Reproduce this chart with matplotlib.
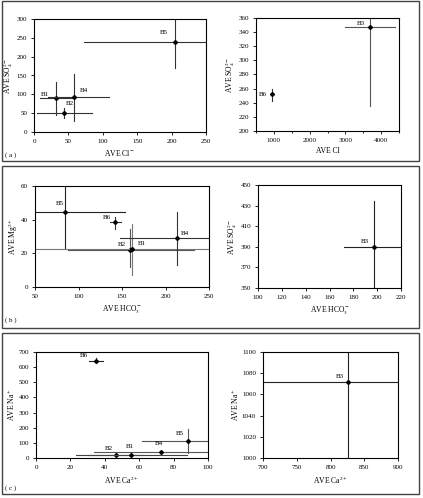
import matplotlib
matplotlib.use("Agg")
import matplotlib.pyplot as plt
from matplotlib.patches import Rectangle
from matplotlib.ticker import MultipleLocator

plt.rcParams['font.family'] = ['Liberation Serif', 'DejaVu Serif']
plt.rcParams['mathtext.fontset'] = 'stix'
plt.rcParams['font.size'] = 5

# (a) SO4 vs Cl
a1_names = ['B1', 'B2', 'B4', 'B5']
a1_x = [32, 44, 58, 205]
a1_y = [89, 51, 93, 239]
a1_xlo = [8, 5, 20, 73]
a1_xhi = [60, 85, 109, 260]
a1_ylo = [46, 36, 29, 171]
a1_yhi = [133, 64, 154, 320]

a2_names = ['B6', 'B3']
a2_x = [936, 3693]
a2_y = [252, 347]
a2_xlo = [880, 3003]
a2_xhi = [990, 4390]
a2_ylo = [243, 235]
a2_yhi = [260, 370]

# (b) Mg / SO4 vs HCO3
b1_names = ['B5', 'B6', 'B2', 'B1', 'B4']
b1_x = [85, 142, 159.5, 162, 213]
b1_y = [44.4, 38.8, 22.2, 22.8, 29.1]
b1_xlo = [40, 136, 88, 40, 148]
b1_xhi = [153, 148.5, 233, 260, 260]
b1_ylo = [23, 34.6, 12, 7, 13]
b1_yhi = [70, 41.4, 34.5, 37.4, 44.7]

b2_names = ['B3']
b2_x = [197.7]
b2_y = [390]
b2_xlo = [172]
b2_xhi = [230]
b2_ylo = [340]
b2_yhi = [434]

# (c) Na vs Ca
c1_names = ['B6', 'B2', 'B1', 'B4', 'B5']
c1_x = [35, 46.5, 55.5, 72.5, 88.5]
c1_y = [643, 20, 22, 38, 114]
c1_xlo = [31, 30, 23, 34, 61.5]
c1_xhi = [39, 63, 88, 110, 110]
c1_ylo = [628, 12, 13, 28, 31]
c1_yhi = [658, 30, 31, 48, 191]

c2_names = ['B3']
c2_x = [826.5]
c2_y = [1072]
c2_xlo = [680]
c2_xhi = [920]
c2_ylo = [990]
c2_yhi = [1110]

W, H = 423, 498
fig = plt.figure(figsize=(W / 100, H / 100), dpi=100)


def ax_at(x0, y0, x1, y1):
    return fig.add_axes([x0 / W, 1 - y1 / H, (x1 - x0) / W, (y1 - y0) / H])


def draw(ax, names, x, y, xlo, xhi, ylo, yhi, offsets, colors):
    for i in range(len(names)):
        c = colors[i]
        ax.plot([xlo[i], xhi[i]], [y[i], y[i]], color=c, lw=0.8, clip_on=True)
        ax.plot([x[i], x[i]], [ylo[i], yhi[i]], color=c, lw=0.8, clip_on=True)
        ax.plot(x[i], y[i], marker='D', ms=2, color='black')
        ax.annotate(names[i], (x[i], y[i]), xytext=offsets[i], textcoords='offset points',
                    fontsize=5, ha='center', va='center')


def style(ax, xlim, ylim, xticks, yticks, xlabel, ylabel, xminor=None):
    ax.set_xlim(*xlim)
    ax.set_ylim(*ylim)
    ax.set_xticks(xticks)
    ax.set_yticks(yticks)
    if xminor:
        ax.xaxis.set_minor_locator(MultipleLocator(xminor))
    ax.tick_params(axis='both', labelsize=5, length=2, width=0.6, pad=3, direction='out')
    ax.tick_params(axis='x', which='minor', length=1.5, width=0.6)
    ax.set_xlabel(xlabel, fontsize=5.5, labelpad=3)
    ax.set_ylabel(ylabel, fontsize=5.5, labelpad=1)
    for s in ax.spines.values():
        s.set_linewidth(0.8)


so4 = r'AVE SO$_4^{2-}$'

ax = ax_at(34, 19, 206, 132)
draw(ax, a1_names, a1_x, a1_y, a1_xlo, a1_xhi, a1_ylo, a1_yhi,
     [(-8, 3), (4, 7), (7, 5), (-8, 7)], ['#333333'] * 4)
style(ax, (0, 250), (0, 300), range(0, 251, 50), range(0, 301, 50), r'AVE Cl$^-$', so4)

ax = ax_at(256, 18, 399, 131)
draw(ax, a2_names, a2_x, a2_y, a2_xlo, a2_xhi, a2_ylo, a2_yhi,
     [(-6, 0), (-7, 3)], ['#333333', '#555555'])
style(ax, (500, 4500), (200, 360), range(1000, 4001, 1000), range(200, 361, 20), 'AVE Cl', so4, xminor=500)

ax = ax_at(35, 186, 209, 287)
draw(ax, b1_names, b1_x, b1_y, b1_xlo, b1_xhi, b1_ylo, b1_yhi,
     [(-4, 6), (-6, 3), (-6, 4), (7, 4), (6, 3)],
     ['#222222', '#333333', '#555555', '#777777', '#333333'])
style(ax, (50, 250), (0, 60), range(50, 251, 50), range(0, 61, 20), r'AVE HCO$_3^-$', r'AVE Mg$^{2+}$')

ax = ax_at(258, 185, 401, 288)
draw(ax, b2_names, b2_x, b2_y, b2_xlo, b2_xhi, b2_ylo, b2_yhi, [(-7, 4)], ['#222222'])
style(ax, (100, 220), (350, 450), range(100, 221, 20), range(350, 451, 20), r'AVE HCO$_3^-$', so4)

ax = ax_at(36, 352, 208, 458)
draw(ax, c1_names, c1_x, c1_y, c1_xlo, c1_xhi, c1_ylo, c1_yhi,
     [(-9, 4), (-5, 5), (-1, 6), (-1, 6), (-6, 5)],
     ['#222222', '#333333', '#444444', '#555555', '#555555'])
style(ax, (0, 100), (0, 700), range(0, 101, 20), range(0, 701, 100), r'AVE Ca$^{2+}$', r'AVE Na$^+$')

ax = ax_at(263, 352, 398, 458)
draw(ax, c2_names, c2_x, c2_y, c2_xlo, c2_xhi, c2_ylo, c2_yhi, [(-6, 4)], ['#222222'])
style(ax, (700, 900), (1000, 1100), range(700, 901, 50), range(1000, 1101, 20), r'AVE Ca$^{2+}$', r'AVE Na$^+$')

# panel frames
for (y0, y1, lab, ly) in [(1, 161, '( a )', 155), (166, 327.5, '( b )', 320), (333, 494, '( c )', 488)]:
    fig.patches.append(Rectangle((1.5 / W, 1 - y1 / H), 417.5 / W, (y1 - y0) / H,
                                 transform=fig.transFigure, fill=False,
                                 edgecolor='#444444', lw=1.0))
    fig.text(5 / W, 1 - ly / H, lab, fontsize=5, va='center', ha='left')

fig.savefig('out.png', dpi=100)
